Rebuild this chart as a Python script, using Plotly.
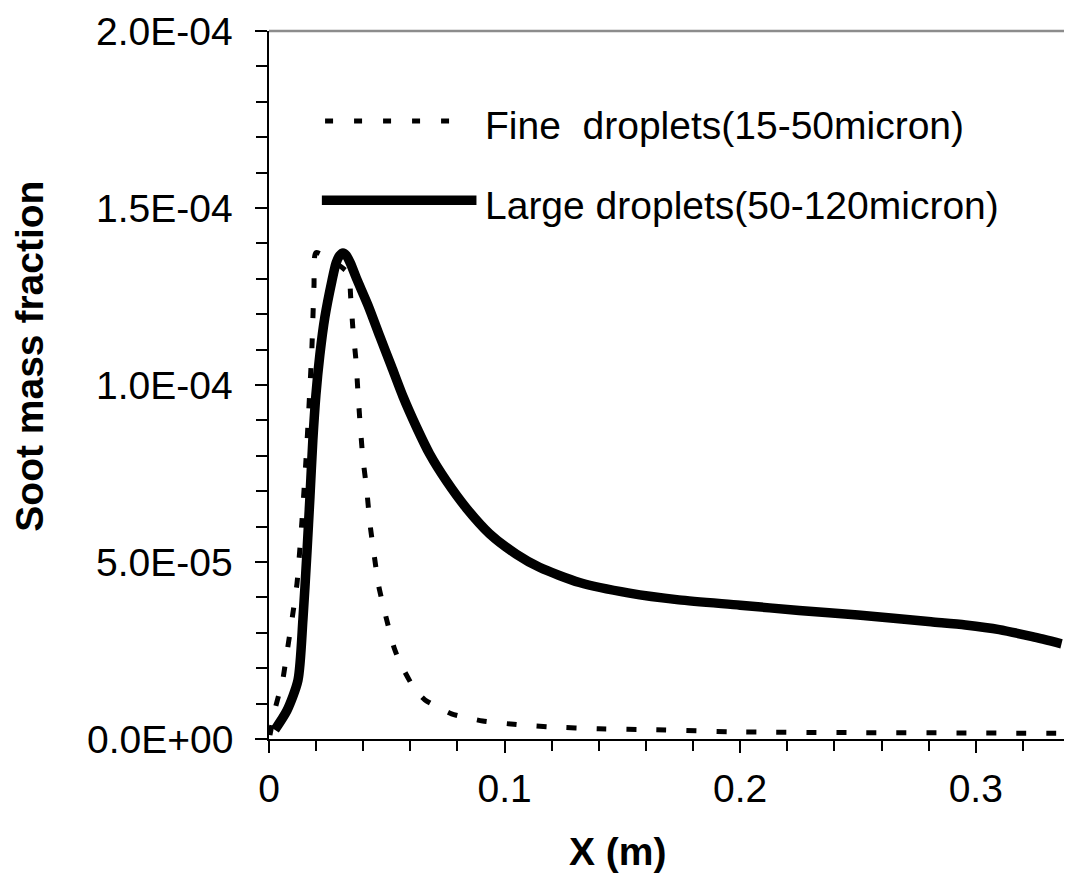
import plotly.graph_objects as go

# ---- data ----
large_x = [0.0025, 0.0076, 0.0123, 0.0144, 0.0161, 0.0174, 0.0186, 0.0199, 0.0216, 0.0237,
           0.0267, 0.0285, 0.0300, 0.0314, 0.0328, 0.0345, 0.0372, 0.0421, 0.0470, 0.0520,
           0.0569, 0.0626, 0.0682, 0.0753, 0.0838, 0.0936, 0.1050, 0.1148, 0.1318, 0.153,
           0.174, 0.200, 0.225, 0.250, 0.281, 0.2956, 0.310, 0.324, 0.3364]
large_y_e5 = [0.26, 0.80, 1.66, 3.37, 5.26, 6.86, 8.43, 9.71, 10.86, 11.91,
              12.94, 13.45, 13.66, 13.73, 13.66, 13.45, 13.00, 12.24, 11.38, 10.52,
              9.67, 8.81, 8.05, 7.29, 6.52, 5.80, 5.22, 4.85, 4.42, 4.12,
              3.93, 3.78, 3.63, 3.50, 3.31, 3.22, 3.09, 2.89, 2.69]

fine_x = [0.0004, 0.0025, 0.0059, 0.0072, 0.0093, 0.0119, 0.0140, 0.0157, 0.0169, 0.0182,
          0.0191, 0.0199, 0.0335, 0.0347, 0.0356, 0.0369, 0.0377, 0.0386, 0.0398, 0.0415,
          0.0428, 0.0445, 0.0466, 0.0496, 0.0530, 0.0555, 0.0619, 0.0661, 0.0775, 0.0907,
          0.1064, 0.120, 0.140, 0.164, 0.200, 0.250, 0.300, 0.338]
fine_y_e5 = [0.11, 0.83, 1.69, 2.26, 3.17, 4.40, 6.17, 7.89, 9.31, 11.03,
             12.80, 13.74, 13.17, 12.46, 11.60, 10.71, 9.86, 8.97, 7.97, 7.03,
             6.11, 5.26, 4.31, 3.46, 2.60, 2.17, 1.40, 1.11, 0.71, 0.51,
             0.40, 0.34, 0.29, 0.26, 0.20, 0.18, 0.17, 0.16]

series_names = ["Fine  droplets(15-50micron)", "Large droplets(50-120micron)"]

x_tickvals = [0, 0.1, 0.2, 0.3]
x_ticktext = ["0", "0.1", "0.2", "0.3"]
y_tickvals = [0, 5e-5, 1e-4, 1.5e-4, 2e-4]
y_ticktext = ["0.0E+00", "5.0E-05", "1.0E-04", "1.5E-04", "2.0E-04"]

large_y = [v * 1e-5 for v in large_y_e5]
fine_y = [v * 1e-5 for v in fine_y_e5]

FONT = "Liberation Sans, Arial, sans-serif"
FS = 39

fig = go.Figure()
fig.add_trace(go.Scatter(x=fine_x, y=fine_y, mode="lines", name=series_names[0],
                         line=dict(color="black", width=5, dash="10px,20px", shape="spline", smoothing=0.5),
                         showlegend=False))
fig.add_trace(go.Scatter(x=large_x, y=large_y, mode="lines", name=series_names[1],
                         line=dict(color="black", width=9.5, shape="spline", smoothing=0.7),
                         showlegend=False))

tickfont = dict(family=FONT, size=FS, color="black")
plain = dict(showgrid=False, zeroline=False)

# the page body adds an 8px margin, so the figure is 8px smaller and margins shifted
fig.update_layout(
    width=1064, height=867,
    margin=dict(l=261, r=2, t=23, b=136),
    paper_bgcolor="white", plot_bgcolor="white",
    xaxis=dict(range=[0, 0.34], tickmode="array", tickvals=x_tickvals, ticktext=x_ticktext,
               showline=True, linecolor="black", linewidth=2,
               ticks="outside", tickcolor="black", tickwidth=1.5, ticklen=12,
               ticklabelstandoff=2, tickfont=tickfont,
               minor=dict(tickmode="linear", tick0=0, dtick=0.02, ticks="outside", ticklen=10,
                          tickcolor="black", tickwidth=1.5),
               **plain),
    yaxis=dict(range=[0, 2e-4], tickmode="array", tickvals=y_tickvals, showticklabels=False,
               showline=True, linecolor="black", linewidth=2,
               ticks="outside", tickcolor="black", tickwidth=1.5, ticklen=12,
               minor=dict(tickmode="linear", tick0=0, dtick=1e-5, ticks="outside", ticklen=11,
                          tickcolor="black", tickwidth=1.5),
               **plain),
    xaxis2=dict(overlaying="x", anchor="y", range=[0, 0.34], tickmode="array", tickvals=x_tickvals,
                ticks="inside", ticklen=14, tickwidth=1.5, tickcolor="black",
                showticklabels=False, showline=False, side="bottom", **plain),
    yaxis2=dict(overlaying="y", anchor="x", range=[0, 2e-4], tickmode="array", tickvals=y_tickvals,
                ticks="inside", ticklen=14, tickwidth=1.5, tickcolor="black",
                showticklabels=False, showline=False, side="left", **plain),
)

# y tick labels placed at their tick values, right-aligned 34px left of the axis
for v, t in zip(y_tickvals, y_ticktext):
    fig.add_annotation(xref="paper", yref="y", x=-34 / 801, y=v, xanchor="right", yanchor="middle",
                       text=t, showarrow=False, font=tickfont)

# grey top / right frame
fig.add_shape(type="line", xref="x domain", yref="y domain", x0=0, x1=1, y0=1, y1=1,
              line=dict(color="#8c8c8c", width=2.5))
fig.add_shape(type="line", xref="x domain", yref="y domain", x0=1, x1=1, y0=0, y1=1,
              line=dict(color="#8c8c8c", width=2.5))

# legend samples
fig.add_shape(type="line", xref="x domain", yref="y domain", x0=0.07, x1=0.24, y0=0.873, y1=0.873,
              line=dict(color="black", width=5, dash="8px,21px"))
fig.add_shape(type="line", xref="x domain", yref="y domain", x0=0.066, x1=0.259, y0=0.761, y1=0.761,
              line=dict(color="black", width=9.5))
fig.add_annotation(xref="x domain", yref="y domain", x=0.267, y=0.866, xanchor="left", yanchor="middle",
                   text=series_names[0], showarrow=False, font=tickfont)
fig.add_annotation(xref="x domain", yref="y domain", x=0.267, y=0.753, xanchor="left", yanchor="middle",
                   text=series_names[1], showarrow=False, font=tickfont)

# axis titles (paper coords relative to the plot area)
fig.add_annotation(xref="paper", yref="paper", x=0.4357, y=-0.1586,
                   xanchor="center", yanchor="middle",
                   text="<b>X (m)</b>", showarrow=False, font=tickfont)
fig.add_annotation(xref="paper", yref="paper", x=-0.2984, y=0.5414,
                   xanchor="center", yanchor="middle",
                   text="<b>Soot mass fraction</b>", textangle=-90, showarrow=False, font=tickfont)

fig.write_html("out.html")
